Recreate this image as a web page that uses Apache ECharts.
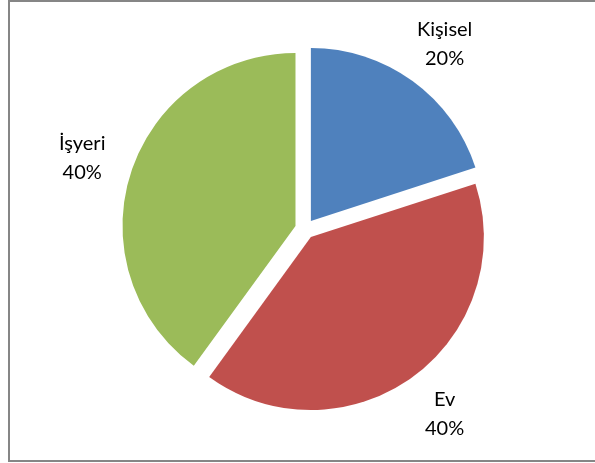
<!DOCTYPE html>
<html>
<head>
<meta charset="utf-8">
<script src="https://cdn.jsdelivr.net/npm/echarts@6/dist/echarts.min.js"></script>
<style>html,body{margin:0;padding:0;background:#fff;}#c{width:595px;height:463px;}</style>
</head>
<body>
<div id="c"></div>
<script>
var categories = ['Kişisel', 'Ev', 'İşyeri'];
var values = [20, 40, 40];
var colors = ['#4F81BD', '#C0504D', '#9BBB59'];

var chart = echarts.init(document.getElementById('c'), null, {renderer: 'canvas'});
var data = categories.map(function (c, i) {
  return { name: c, value: values[i], selected: true, itemStyle: { color: colors[i] } };
});
chart.setOption({
  animation: false,
  backgroundColor: '#fff',
  graphic: [{
    type: 'rect', shape: { x: 9, y: 1, width: 600, height: 460 },
    style: { fill: 'none', stroke: '#868686', lineWidth: 2 }, silent: true
  }],
  series: [{
    type: 'pie',
    center: [305, 229],
    radius: [0, 173],
    startAngle: 90,
    clockwise: true,
    selectedMode: 'multiple',
    selectedOffset: 10,
    avoidLabelOverlap: false,
    data: data,
    label: {
      show: true,
      position: 'outside',
      formatter: '{b}\n{d}%',
      fontFamily: 'Lato',
      fontSize: 20,
      lineHeight: 29,
      color: '#000'
    },
    labelLine: { show: false, length: 46, length2: 0 },
    labelLayout: function (p) {
      var pts = p.labelLinePoints;
      if (!pts) return {};
      return { x: pts[1][0] + 6, y: pts[1][1] + 5, align: 'center', verticalAlign: 'middle' };
    },
    emphasis: { disabled: true }
  }]
});
</script>
</body>
</html>
